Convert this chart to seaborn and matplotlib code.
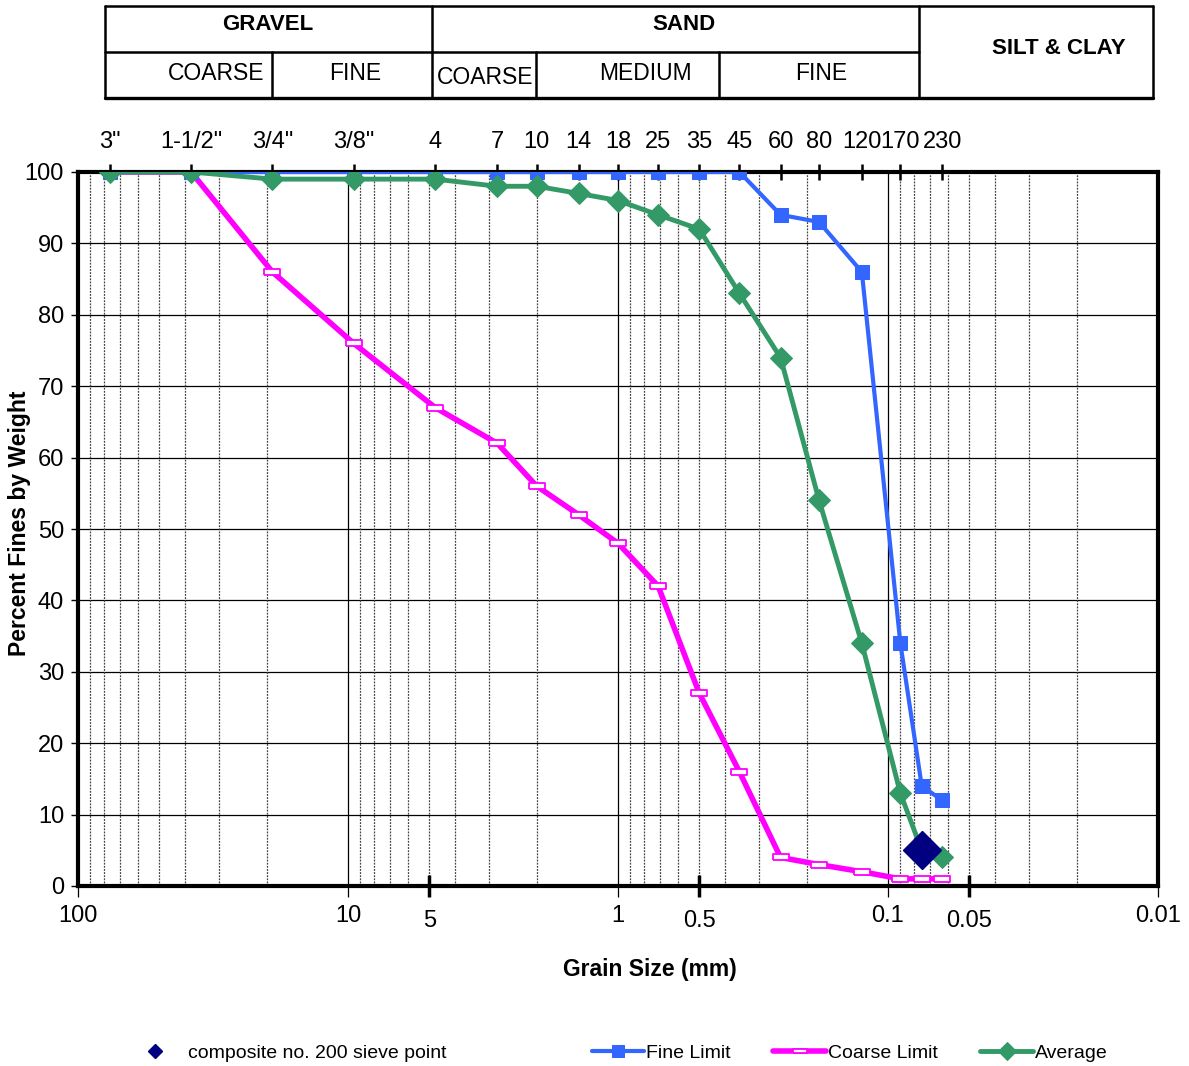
import numpy as np
import pandas as pd
import matplotlib
matplotlib.use("Agg")
import matplotlib.pyplot as plt
import matplotlib.ticker as mticker
import seaborn as sns

# Sieve data
sieve_labels = ['3"', '1-1/2"', '3/4"', '3/8"', '4', '7', '10', '14', '18', '25',
                '35', '45', '60', '80', '120', '170', '230']
sieve_mm = [76.2, 38.1, 19.05, 9.525, 4.75, 2.8, 2.0, 1.4, 1.0, 0.71,
            0.5, 0.355, 0.25, 0.18, 0.125, 0.09, 0.063]

# grain sizes used for the curves (incl. no. 200 = 0.075 mm)
grain_mm = [76.2, 38.1, 19.05, 9.525, 4.75, 2.8, 2.0, 1.4, 1.0, 0.71,
            0.5, 0.355, 0.25, 0.18, 0.125, 0.09, 0.075, 0.063]
fine_limit = [100, 100, 100, 100, 100, 100, 100, 100, 100, 100,
              100, 100, 94, 93, 86, 34, 14, 12]
coarse_limit = [100, 100, 86, 76, 67, 62, 56, 52, 48, 42,
                27, 16, 4, 3, 2, 1, 1, 1]
average = [100, 100, 99, 99, 99, 98, 98, 97, 96, 94,
           92, 83, 74, 54, 34, 13, 5, 4]

composite_mm = [0.075]
composite_pct = [5]

df = pd.DataFrame({"size": grain_mm, "Fine Limit": fine_limit,
                   "Coarse Limit": coarse_limit, "Average": average})

sns.set_style("white")
plt.rcParams['font.family'] = ['Liberation Sans', 'DejaVu Sans']
plt.rcParams['text.color'] = 'black'
plt.rcParams['axes.labelcolor'] = 'black'
plt.rcParams['xtick.color'] = 'black'
plt.rcParams['ytick.color'] = 'black'

fig = plt.figure(figsize=(11.89, 10.66), dpi=100)
ax = fig.add_axes([78 / 1189, 1 - 886 / 1066, 1080 / 1189, 714 / 1066])

blue = "#3366FF"
magenta = "#FF00FF"
green = "#339966"
navy = "#000080"

ax.set_xscale("log")
ax.set_xlim(100, 0.01)
ax.set_ylim(0, 100)

# grid
for y in range(10, 100, 10):
    ax.axhline(y, color="black", lw=0.9, zorder=0)
for k in range(-2, 2):
    ax.axvline(10.0 ** k, color="black", lw=0.9, zorder=0)
    for s in range(2, 10):
        ax.axvline(s * 10.0 ** k, color="#444444", lw=0.9, ls=(0, (1.5, 1.0)), zorder=0)

rect_marker = [(-1, -0.32), (1, -0.32), (1, 0.32), (-1, 0.32), (-1, -0.32)]

sns.lineplot(data=df, x="size", y="Coarse Limit", ax=ax, color=magenta, lw=4,
             marker=rect_marker, markersize=12, markerfacecolor="white",
             markeredgecolor=magenta, markeredgewidth=1.3, estimator=None,
             label="Coarse Limit", zorder=3)
sns.lineplot(data=df, x="size", y="Fine Limit", ax=ax, color=blue, lw=3,
             marker="s", markersize=10.5, markeredgecolor=blue, estimator=None,
             label="Fine Limit", zorder=4)
sns.lineplot(data=df, x="size", y="Average", ax=ax, color=green, lw=3.5,
             marker="D", markersize=11, markeredgecolor=green, estimator=None,
             label="Average", zorder=5)
ax.plot(composite_mm, composite_pct, ls="none", marker="D", markersize=19,
        color=navy, markeredgecolor=navy, zorder=6, clip_on=False,
        label="composite no. 200 sieve point")

ax.set_xlim(100, 0.01)
ax.set_ylim(0, 100)

# main x ticks (decades)
ax.xaxis.set_major_locator(mticker.FixedLocator([100, 10, 1, 0.1, 0.01]))
ax.xaxis.set_major_formatter(mticker.FixedFormatter(["100", "10", "1", "0.1", "0.01"]))
ax.xaxis.set_minor_locator(mticker.NullLocator())
ax.tick_params(axis="x", which="major", bottom=True, top=False, direction="out",
               length=8, width=0.9, labelsize=17, pad=6, color="black")
ax.set_yticks(range(0, 101, 10))
ax.tick_params(axis="y", left=True, direction="out", length=5, width=1,
               labelsize=17, pad=5, color="black")

# half-decade ticks at the bottom
ax5 = ax.secondary_xaxis("bottom")
ax5.set_xticks([5, 0.5, 0.05], labels=["5", "0.5", "0.05"])
ax5.xaxis.set_minor_locator(mticker.NullLocator())
ax5.tick_params(axis="x", direction="inout", length=16, width=2.5, labelsize=17,
                pad=9, color="black")
ax5.spines["bottom"].set_visible(False)

# sieve numbers on top
axt = ax.secondary_xaxis("top")
axt.set_xticks(sieve_mm, labels=sieve_labels)
axt.xaxis.set_minor_locator(mticker.NullLocator())
axt.tick_params(axis="x", direction="inout", length=12, width=1.8, labelsize=17,
                pad=8, color="black")
axt.spines["top"].set_visible(False)

for sp in ax.spines.values():
    sp.set_linewidth(3)
    sp.set_color("black")
    sp.set_visible(True)

ax.set_xlabel("Grain Size (mm)", fontsize=16.5, fontweight="bold")
ax.xaxis.set_label_coords((650 - 78) / 1080, -(958 - 886) / 714)
ax.set_ylabel("Percent Fines by Weight", fontsize=16.5, fontweight="bold")
ax.yaxis.set_label_coords(-(78 - 31) / 1080, (886 - 523) / 714)

# legends
if ax.get_legend():
    ax.get_legend().remove()
handles, labels = ax.get_legend_handles_labels()
hmap = dict(zip(labels, handles))
fig.legend([hmap["composite no. 200 sieve point"]], ["composite no. 200 sieve point"],
           loc="center left", bbox_to_anchor=(124 / 1189, 1 - 1053 / 1066),
           frameon=False, fontsize=14, markerscale=0.4, handlelength=1.4,
           handletextpad=1.0)
fig.legend([hmap["Fine Limit"], hmap["Coarse Limit"], hmap["Average"]],
           ["Fine Limit", "Coarse Limit", "Average"], ncol=3,
           loc="center left", bbox_to_anchor=(574 / 1189, 1 - 1053 / 1066),
           frameon=False, fontsize=14, handlelength=2.7, handletextpad=0.1,
           columnspacing=2.2, markerscale=0.8)

# soil classification table at the top
tab = fig.add_axes([0, 0, 1, 1], zorder=-1)
tab.set_xlim(0, 1189)
tab.set_ylim(1066, 0)
tab.axis("off")
lw = 1.8
tab.plot([105, 1153], [6, 6], color="black", lw=lw)
tab.plot([105, 1153], [98, 98], color="black", lw=lw + 0.6)
tab.plot([105, 919], [52, 52], color="black", lw=lw)
for x in [105, 432, 919, 1153]:
    tab.plot([x, x], [6, 98], color="black", lw=lw)
for x in [272, 536, 719]:
    tab.plot([x, x], [52, 98], color="black", lw=lw)
tab.text(268, 24, "GRAVEL", ha="center", va="center", fontsize=16, fontweight="bold")
tab.text(684, 24, "SAND", ha="center", va="center", fontsize=16, fontweight="bold")
tab.text(1059, 49, "SILT & CLAY", ha="center", va="center", fontsize=16, fontweight="bold")
tab.text(216, 73, "COARSE", ha="center", va="center", fontsize=16.5)
tab.text(355, 73, "FINE", ha="center", va="center", fontsize=16.5)
tab.text(485, 77, "COARSE", ha="center", va="center", fontsize=16.5)
tab.text(645, 73, "MEDIUM", ha="center", va="center", fontsize=16.5)
tab.text(821, 73, "FINE", ha="center", va="center", fontsize=16.5)

fig.savefig("out.png", dpi=100)
